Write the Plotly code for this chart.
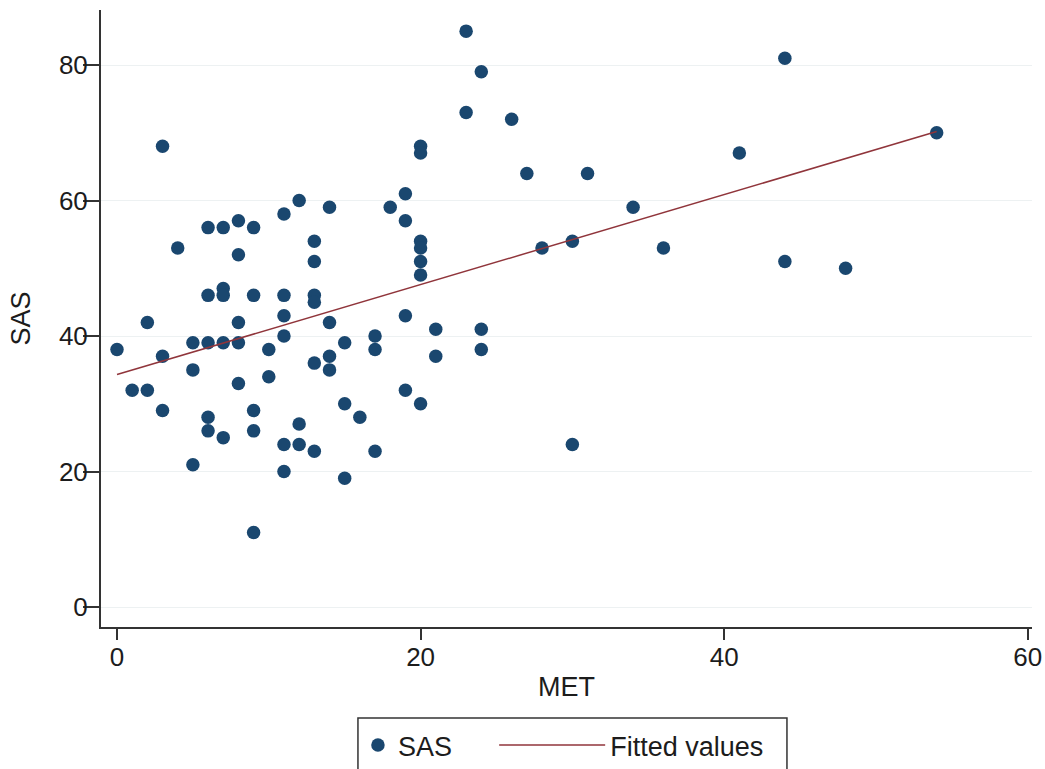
import numpy as np
import plotly.graph_objects as go

met = [0, 1, 2, 2, 3, 3, 3, 4, 5, 5, 5,
       6, 6, 6, 6, 6, 7, 7, 7, 7, 7,
       8, 8, 8, 8, 8, 9, 9, 9, 9, 9,
       10, 10, 11, 11, 11, 11, 11, 11, 12, 12, 12,
       13, 13, 13, 13, 13, 13, 14, 14, 14, 14,
       15, 15, 15, 16, 17, 17, 17, 18, 19, 19, 19, 19,
       20, 20, 20, 20, 20, 20, 20, 21, 21,
       23, 23, 24, 24, 24, 26, 27, 28, 30, 30, 31,
       34, 36, 41, 44, 44, 48, 54]
sas = [38, 32, 42, 32, 68, 37, 29, 53, 39, 35, 21,
       56, 46, 39, 28, 26, 56, 47, 46, 39, 25,
       57, 52, 42, 39, 33, 56, 46, 29, 26, 11,
       38, 34, 58, 46, 43, 40, 24, 20, 60, 27, 24,
       54, 51, 46, 45, 36, 23, 59, 42, 37, 35,
       39, 30, 19, 28, 40, 38, 23, 59, 61, 57, 43, 32,
       68, 67, 54, 53, 51, 49, 30, 41, 37,
       85, 73, 79, 41, 38, 72, 64, 53, 54, 24, 64,
       59, 53, 67, 81, 51, 50, 70]

x_ticks = [0, 20, 40, 60]
y_ticks = [0, 20, 40, 60, 80]

slope, intercept = np.polyfit(met, sas, 1)
fit_x = [min(met), max(met)]
fit_y = [intercept + slope * v for v in fit_x]

font = "Liberation Sans, Arial, sans-serif"
ink = "#1c1c1c"

fig = go.Figure()
fig.add_trace(go.Scatter(
    x=met, y=sas, mode="markers", name="SAS", legend="legend",
    marker=dict(color="#1a476f", size=13.5, line=dict(width=0)),
))
fig.add_trace(go.Scatter(
    x=fit_x, y=fit_y, mode="lines", name="Fitted values", legend="legend2",
    line=dict(color="#90353b", width=1.5),
))

# legend frame (layout decoration, paper coordinates)
fig.add_shape(type="rect", xref="paper", yref="paper",
              x0=0.276, x1=0.7368, y0=-0.1475, y1=-0.26,
              line=dict(color="#333333", width=1.5), fillcolor="rgba(0,0,0,0)",
              layer="above")

fig.update_layout(
    width=1045, height=769,
    paper_bgcolor="white", plot_bgcolor="white",
    margin=dict(l=101, r=13, t=10, b=142, autoexpand=False),
    font=dict(family=font, size=26, color=ink),
    showlegend=True,
    legend=dict(
        orientation="h", x=0.276, xanchor="left", y=-0.1524, yanchor="top",
        borderwidth=0, bgcolor="rgba(0,0,0,0)",
        font=dict(size=27, color=ink), itemwidth=30,
    ),
    legend2=dict(
        orientation="h", x=0.4223, xanchor="left", y=-0.1524, yanchor="top",
        borderwidth=0, bgcolor="rgba(0,0,0,0)",
        font=dict(size=27, color=ink), itemwidth=106,
    ),
)
fig.update_xaxes(
    range=[-1.054, 60.28], tickvals=x_ticks, showgrid=False, zeroline=False,
    automargin=False,
    showline=True, linecolor="#333333", linewidth=2,
    ticks="outside", ticklen=11, tickcolor="#333333", tickwidth=1.5,
    ticklabelstandoff=-5,
    title=dict(text="MET", standoff=6, font=dict(size=27, color=ink)),
    tickfont=dict(size=26, color=ink),
)
fig.update_yaxes(
    range=[-2.95, 88.12], tickvals=y_ticks, showgrid=True, gridcolor="#edf1f2",
    gridwidth=1, zeroline=False, automargin=False,
    showline=True, linecolor="#333333", linewidth=2,
    ticks="outside", ticklen=16, tickcolor="#333333", tickwidth=1.5,
    ticklabelstandoff=-10,
    title=dict(text="SAS", standoff=20, font=dict(size=27, color=ink)),
    tickfont=dict(size=26, color=ink),
)

fig.write_html(
    "out.html",
    config={"displayModeBar": False},
    post_script=(
        "document.documentElement.style.margin='0px';"
        "document.documentElement.style.padding='0px';"
        "document.documentElement.style.height='769px';"
        "document.documentElement.style.overflow='hidden';"
        "document.body.style.margin='0px';"
        "document.body.style.padding='0px';"
        "document.body.style.height='769px';"
        "document.body.style.overflow='hidden';"
    ),
)
